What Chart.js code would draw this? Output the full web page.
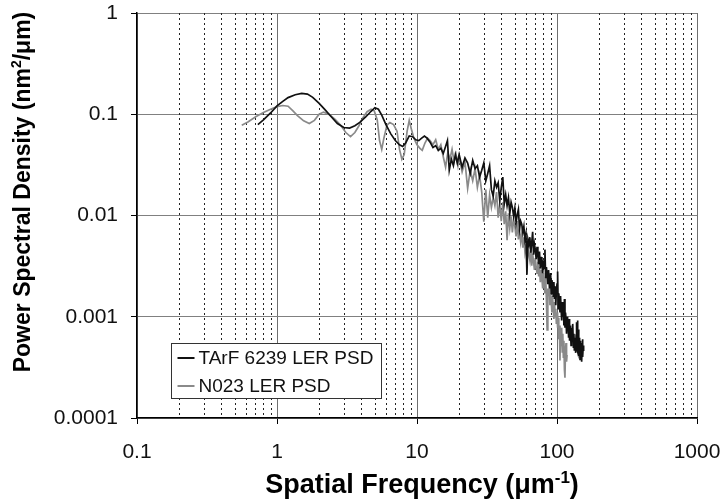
<!DOCTYPE html>
<html>
<head>
<meta charset="utf-8">
<script src="https://cdn.jsdelivr.net/npm/chart.js@4.4.0/dist/chart.umd.min.js"></script>
<style>
  html, body { margin: 0; padding: 0; background: #fff; }
</style>
</head>
<body>
<canvas id="psdChart" width="722" height="504"></canvas>
<script>
// Données (fréquence en µm-1, PSD en nm²/µm)
const freqTArF = [0.73, 0.8, 0.9, 1.0, 1.1, 1.2, 1.35, 1.5, 1.65, 1.8, 2.0, 2.2, 2.45, 2.7, 3.0, 3.3, 3.6, 3.9, 4.3, 4.7,
    5.0, 5.3, 5.6, 6.0, 6.5, 7.0, 7.5, 7.9, 8.3, 8.8, 9.3, 9.8, 10.3, 10.8, 11.3, 11.8, 12.4, 13.0, 13.6, 14.2,
    14.8, 15.4, 16.0, 16.5, 17.0, 17.6, 18.2, 18.8, 19.4,
    20, 21, 22, 23, 24, 25, 26, 27, 28, 29, 30, 31, 32, 33, 34, 35, 36, 37, 38, 39,
    40, 41, 42, 43, 44, 45, 46, 47, 48, 49, 50, 51, 52, 53, 54, 55, 56, 57, 58, 59,
    60, 61, 62, 63, 64, 65, 66, 67, 68, 69, 70, 71, 72, 73, 74, 75, 76, 77, 78, 79,
    80, 81, 82, 83, 84, 85, 86, 87, 88, 89, 90, 91, 92, 93, 94, 95, 96, 97, 98, 99,
    100, 101, 102, 103, 104, 105, 106, 107, 108, 109, 110, 111, 112, 113, 114, 115, 116, 117, 118, 119,
    120, 121, 122, 123, 124, 125, 126, 127, 128, 129, 130, 131, 132, 133, 134, 135, 136, 137, 138, 139,
    140, 141, 142, 143, 144, 145, 146, 147, 148, 149, 150, 151, 152, 153, 154, 155];
const psdTArF = [0.079, 0.088, 0.103, 0.121, 0.134, 0.146, 0.156, 0.161, 0.158, 0.147, 0.128, 0.111, 0.094, 0.081, 0.074, 0.073, 0.077, 0.083, 0.094, 0.107,
    0.116, 0.112, 0.098, 0.079, 0.064, 0.055, 0.050, 0.048, 0.052, 0.061, 0.060, 0.056, 0.055, 0.058, 0.061, 0.058, 0.053, 0.047, 0.049, 0.044,
    0.046, 0.041, 0.048, 0.055, 0.028, 0.036, 0.031, 0.040, 0.033,
    0.040, 0.030, 0.037, 0.033, 0.026, 0.035, 0.029, 0.031, 0.024, 0.028, 0.033, 0.022, 0.026, 0.031, 0.018, 0.0155, 0.022, 0.019, 0.021, 0.014,
    0.019, 0.024, 0.013, 0.016, 0.0125, 0.015, 0.0105, 0.0135, 0.012, 0.0098, 0.0118, 0.0085, 0.0102, 0.0115, 0.0074, 0.0088, 0.0082, 0.0068, 0.0078, 0.0058,
    0.0066, 0.0026, 0.0058, 0.0052, 0.0061, 0.0043, 0.0054, 0.0069, 0.0041, 0.0052, 0.0046, 0.0037, 0.0049, 0.0041, 0.0033, 0.0044, 0.0030, 0.0039, 0.0034, 0.0027,
    0.0036, 0.0030, 0.0046, 0.0024, 0.0031, 0.0026, 0.0021, 0.0029, 0.0022, 0.0019, 0.0027, 0.0017, 0.0023, 0.0020, 0.0016, 0.0022, 0.0015, 0.0020, 0.0013, 0.0018,
    0.0021, 0.0028, 0.0012, 0.0017, 0.0014, 0.0011, 0.0016, 0.0012, 0.00092, 0.0014, 0.0010, 0.0013, 0.00082, 0.0015, 0.00078, 0.0011, 0.00095, 0.00068, 0.0010, 0.00072,
    0.00088, 0.00062, 0.00095, 0.00058, 0.00082, 0.0007, 0.00052, 0.00078, 0.00058, 0.00072, 0.00085, 0.0005, 0.00068, 0.00047, 0.00062, 0.00055, 0.00044, 0.00066, 0.00088, 0.00048,
    0.00092, 0.00045, 0.00075, 0.00041, 0.00062, 0.00052, 0.00038, 0.00058, 0.00042, 0.00055, 0.00036, 0.0005, 0.0006, 0.0004, 0.00052, 0.00046];

const freqN023 = [0.56, 0.62, 0.7, 0.8, 0.9, 1.0, 1.1, 1.2, 1.3, 1.4, 1.55, 1.7, 1.85, 2.0, 2.15, 2.35, 2.6, 2.85, 3.1, 3.35,
    3.6, 3.85, 4.1, 4.4, 4.7, 4.95, 5.2, 5.4, 5.6, 5.8, 6.1, 6.4, 6.8, 7.2, 7.5, 7.8, 8.1, 8.5, 8.8, 9.1,
    9.5, 10.0, 10.5, 10.9, 11.4, 11.9, 12.4, 13.0, 13.6, 14.2, 14.8, 15.4, 16.0, 16.6, 17.2, 17.8, 18.4, 19.0, 19.6,
    20, 21, 22, 23, 24, 25, 26, 27, 28, 29, 30, 31, 32, 33, 34, 35, 36, 37, 38, 39,
    40, 41, 42, 43, 44, 45, 46, 47, 48, 49, 50, 51, 52, 53, 54, 55, 56, 57, 58, 59,
    60, 61, 62, 63, 64, 65, 66, 67, 68, 69, 70, 71, 72, 73, 74, 75, 76, 77, 78, 79,
    80, 81, 82, 83, 84, 85, 86, 87, 88, 89, 90, 91, 92, 93, 94, 95, 96, 97, 98, 99,
    100, 101, 102, 103, 104, 105, 106, 107, 108, 109, 110, 111, 112, 113, 114, 115, 116, 117, 118];
const psdN023 = [0.078, 0.084, 0.094, 0.104, 0.112, 0.119, 0.122, 0.120, 0.108, 0.097, 0.086, 0.081, 0.087, 0.100, 0.105, 0.100, 0.089, 0.078, 0.066, 0.060,
    0.066, 0.077, 0.092, 0.106, 0.112, 0.108, 0.088, 0.055, 0.045, 0.058, 0.078, 0.083, 0.079, 0.068, 0.045, 0.036, 0.040, 0.068, 0.087, 0.072,
    0.058, 0.050, 0.046, 0.044, 0.052, 0.058, 0.055, 0.050, 0.056, 0.045, 0.050, 0.038, 0.030, 0.042, 0.036, 0.045, 0.034, 0.040, 0.031,
    0.038, 0.027, 0.034, 0.0185, 0.028, 0.022, 0.029, 0.019, 0.025, 0.017, 0.0087, 0.018, 0.0095, 0.016, 0.012, 0.015, 0.0125, 0.017, 0.0095, 0.013,
    0.0088, 0.0135, 0.0082, 0.011, 0.0057, 0.0105, 0.0075, 0.0098, 0.0068, 0.0092, 0.0078, 0.0062, 0.0088, 0.0058, 0.0072, 0.0055, 0.0066, 0.0048, 0.0061, 0.0044,
    0.0052, 0.0034, 0.0047, 0.0041, 0.0036, 0.0048, 0.0032, 0.0042, 0.0035, 0.0029, 0.0038, 0.0031, 0.0027, 0.0035, 0.0025, 0.0031, 0.0022, 0.0029, 0.0024, 0.0019,
    0.0027, 0.0021, 0.0017, 0.0025, 0.0015, 0.00074, 0.0019, 0.0016, 0.0021, 0.0013, 0.0017, 0.0014, 0.0011, 0.0016, 0.0012, 0.00095, 0.0014, 0.0010, 0.0012, 0.00085,
    0.0011, 0.00078, 0.00098, 0.0006, 0.00082, 0.00037, 0.0007, 0.00052, 0.00078, 0.00045, 0.00068, 0.0004, 0.00058, 0.0003, 0.00025, 0.00048, 0.00055, 0.00036, 0.00042];

const ticksX = [0.1, 1, 10, 100, 1000];
const ticksY = [0.0001, 0.001, 0.01, 0.1, 1];
const nomsSeries = ['TArF 6239 LER PSD', 'N023 LER PSD'];
const couleurs = ['#111111', '#8a8a8a'];

const police = '"Liberation Sans", Arial, Helvetica, sans-serif';

function versPoints(xs, ys) {
    return xs.map((x, i) => ({ x: x, y: ys[i] }));
}

// on neutralise la marge que Chart.js ajoute pour les étiquettes des extrémités
function sansMarge(s) {
    s.paddingTop = 0;
    s.paddingBottom = 0;
    s.paddingLeft = 0;
    s.paddingRight = 0;
}

// Texte avec exposant (morceaux = [[texte, estExposant], ...]), centré sur (cx, cy)
function dessinerTitre(ctx, morceaux, cx, cy, taille, angle) {
    const fontN = 'bold ' + taille + 'px ' + police;
    const fontS = 'bold ' + Math.round(taille * 0.62) + 'px ' + police;
    ctx.save();
    ctx.translate(cx, cy);
    ctx.rotate(angle);
    let total = 0;
    morceaux.forEach(m => {
        ctx.font = m[1] ? fontS : fontN;
        total += ctx.measureText(m[0]).width;
    });
    let x = -total / 2;
    ctx.textAlign = 'left';
    ctx.textBaseline = 'middle';
    ctx.fillStyle = '#000';
    morceaux.forEach(m => {
        ctx.font = m[1] ? fontS : fontN;
        ctx.fillText(m[0], x, m[1] ? -taille * 0.3 : 0);
        x += ctx.measureText(m[0]).width;
    });
    ctx.restore();
}

const pluginDecor = {
    id: 'decor',
    beforeDatasetsDraw(chart) {
        // lignes secondaires pointillées (2..9 dans chaque décade)
        const { ctx, chartArea } = chart;
        const sx = chart.scales.x;
        ctx.save();
        ctx.strokeStyle = '#222';
        ctx.lineWidth = 1;
        ctx.setLineDash([2, 3]);
        for (let d = 0; d < ticksX.length - 1; d++) {
            for (let m = 2; m <= 9; m++) {
                const px = Math.round(sx.getPixelForValue(ticksX[d] * m)) + 0.5;
                ctx.beginPath();
                ctx.moveTo(px, chartArea.top);
                ctx.lineTo(px, chartArea.bottom);
                ctx.stroke();
            }
        }
        ctx.restore();
    },
    afterDatasetsDraw(chart) {
        // légende encadrée dans le graphique
        const ctx = chart.ctx;
        const x0 = 171.5, y0 = 343.5, w = 210, h = 55;
        ctx.save();
        ctx.fillStyle = '#fff';
        ctx.fillRect(x0, y0, w, h);
        ctx.strokeStyle = '#333';
        ctx.lineWidth = 1;
        ctx.strokeRect(x0, y0, w, h);
        ctx.font = '19px ' + police;
        ctx.textBaseline = 'middle';
        ctx.textAlign = 'left';
        const lignesY = [358, 386];
        chart.data.datasets.forEach((ds, i) => {
            ctx.strokeStyle = ds.borderColor;
            ctx.lineWidth = 2;
            ctx.beginPath();
            ctx.moveTo(x0 + 6, lignesY[i]);
            ctx.lineTo(x0 + 23, lignesY[i]);
            ctx.stroke();
            ctx.fillStyle = '#111';
            ctx.fillText(ds.label, x0 + 27, lignesY[i] + 1);
        });
        ctx.restore();
    },
    afterDraw(chart) {
        const ctx = chart.ctx;
        dessinerTitre(ctx, [['Power Spectral Density (nm', false], ['2', true], ['/\u03bcm)', false]], 24, 192, 23, -Math.PI / 2);
        dessinerTitre(ctx, [['Spatial Frequency (\u03bcm', false], ['-1', true], [')', false]], 422, 486, 27, 0);
    }
};

const ctx = document.getElementById('psdChart').getContext('2d');
const psdChart = new Chart(ctx, {
    type: 'line',
    data: {
        datasets: [
            {
                label: nomsSeries[0],
                data: versPoints(freqTArF, psdTArF),
                borderColor: couleurs[0],
                backgroundColor: couleurs[0],
                borderWidth: 1.7,
                pointRadius: 0,
                tension: 0
            },
            {
                label: nomsSeries[1],
                data: versPoints(freqN023, psdN023),
                borderColor: couleurs[1],
                backgroundColor: couleurs[1],
                borderWidth: 1.7,
                pointRadius: 0,
                tension: 0
            }
        ]
    },
    options: {
        responsive: false,
        animation: false,
        devicePixelRatio: 1,
        layout: { padding: { top: 13, right: 25, bottom: 0, left: 0 } },
        plugins: {
            legend: { display: false },
            tooltip: { enabled: false }
        },
        scales: {
            x: {
                type: 'logarithmic',
                min: 0.1,
                max: 1000,
                afterBuildTicks: s => { s.ticks = ticksX.map(v => ({ value: v })); },
                afterFit: s => { s.height = 86; sansMarge(s); },
                grid: { color: '#707070', lineWidth: 1, tickLength: 6, tickColor: '#000' },
                border: { color: '#000', width: 1.5 },
                ticks: {
                    callback: v => String(v),
                    font: { family: police, size: 21 },
                    color: '#111',
                    padding: 16,
                    maxRotation: 0,
                    autoSkip: false
                }
            },
            y: {
                type: 'logarithmic',
                min: 0.0001,
                max: 1,
                afterBuildTicks: s => { s.ticks = ticksY.map(v => ({ value: v })); },
                afterFit: s => { s.width = 137; sansMarge(s); },
                grid: { color: '#808080', lineWidth: 1, tickLength: 6, tickColor: '#000' },
                border: { color: '#000', width: 1.5 },
                ticks: {
                    callback: v => String(v),
                    font: { family: police, size: 21 },
                    color: '#111',
                    padding: 13,
                    autoSkip: false
                }
            }
        }
    },
    plugins: [pluginDecor]
});
</script>
</body>
</html>
